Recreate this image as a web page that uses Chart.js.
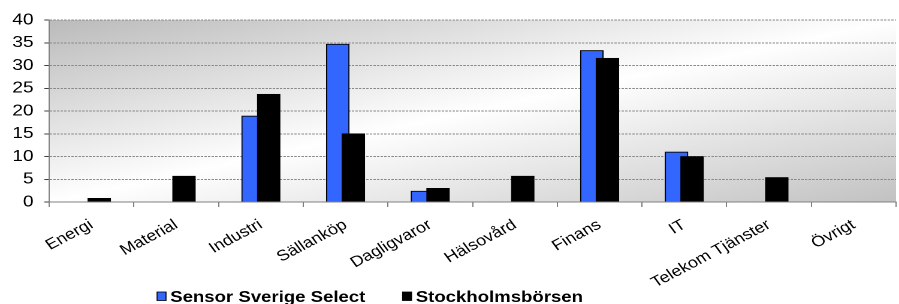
<!DOCTYPE html>
<html>
<head>
<meta charset="utf-8">
<script src="https://cdn.jsdelivr.net/npm/chart.js@4/dist/chart.umd.min.js"></script>
<style>
  html, body { margin: 0; padding: 0; background: #fff; overflow: hidden; }
  /* the original picture is stretched sideways, so draw narrow and stretch */
  #wrap { width: 750px; height: 304px; transform: scaleX(1.1987); transform-origin: 0 0; }
</style>
</head>
<body>
<div id="wrap"><canvas id="chart" width="750" height="304"></canvas></div>
<script>
const categories = ['Energi', 'Material', 'Industri', 'Sällanköp', 'Dagligvaror',
  'Hälsovård', 'Finans', 'IT', 'Telekom Tjänster', 'Övrigt'];
const sensorValues = [0, 0, 18.9, 34.7, 2.4, 0, 33.3, 11.0, 0, 0];
const stockholmValues = [0.8, 5.7, 23.7, 15.0, 3.0, 5.7, 31.6, 10.0, 5.4, 0];
const seriesNames = ['Sensor Sverige Select', 'Stockholmsbörsen'];
const yMin = 0, yMax = 40, yStep = 5;

const FONT = "'Liberation Sans', Arial, sans-serif";
const barShift = [-6.5, 6.5];

// gray diagonal gradient behind the plot (Excel style, in unit square)
const plotBackground = {
  id: 'plotBackground',
  beforeDraw(chart) {
    const { ctx, chartArea: a } = chart;
    ctx.save();
    ctx.translate(a.left, a.top);
    ctx.scale(a.right - a.left, a.bottom - a.top);
    const g = ctx.createLinearGradient(0, 0, 1, 1);
    g.addColorStop(0, '#bbbbbb');
    g.addColorStop(0.5, '#ffffff');
    g.addColorStop(1, '#c2c2c2');
    ctx.fillStyle = g;
    ctx.fillRect(0, 0, 1, 1);
    ctx.restore();
  }
};

// overlapping bars: push each series a bit off the category centre
const overlapBars = {
  id: 'overlapBars',
  afterDatasetsUpdate(chart) {
    chart.data.datasets.forEach((ds, i) => {
      chart.getDatasetMeta(i).data.forEach(el => { el.x += barShift[i]; });
    });
  }
};

// legend drawn by hand so it can sit off-centre like the original
const sideLegend = {
  id: 'sideLegend',
  afterDraw(chart) {
    const ctx = chart.ctx;
    ctx.save();
    ctx.font = 'bold 15.5px ' + FONT;
    ctx.textBaseline = 'alphabetic';
    let x = 131;
    chart.data.datasets.forEach(ds => {
      ctx.fillStyle = ds.backgroundColor;
      ctx.fillRect(x, 292, 7.5, 8.5);
      ctx.strokeStyle = '#000';
      ctx.lineWidth = 0.8;
      ctx.strokeRect(x, 292, 7.5, 8.5);
      ctx.fillStyle = '#000';
      ctx.fillText(ds.label, x + 11, 302);
      x += 11 + ctx.measureText(ds.label).width + 31;
    });
    ctx.restore();
  }
};

new Chart(document.getElementById('chart'), {
  type: 'bar',
  data: {
    labels: categories,
    datasets: [
      { label: seriesNames[0], data: sensorValues, backgroundColor: '#3366ff',
        borderColor: '#000', borderWidth: 1, borderSkipped: 'bottom', order: 1 },
      { label: seriesNames[1], data: stockholmValues, backgroundColor: '#000000',
        borderColor: '#000', borderWidth: 1, borderSkipped: 'bottom', order: 0 }
    ]
  },
  options: {
    responsive: false,
    devicePixelRatio: 2,
    animation: false,
    layout: { padding: { top: 20, right: 2.5, left: 0, bottom: 0 } },
    datasets: { bar: { grouped: false, barThickness: 19 } },
    plugins: {
      legend: { display: false },
      tooltip: { enabled: false }
    },
    scales: {
      x: {
        afterFit: s => { s.height = 102; },
        grid: { offset: true, drawOnChartArea: false, tickLength: 5, color: '#808080' },
        border: { color: '#808080' },
        ticks: {
          autoSkip: false, minRotation: 32, maxRotation: 32, padding: 9,
          color: '#000', font: { family: FONT, size: 15 }
        }
      },
      y: {
        min: yMin,
        max: yMax,
        afterFit: s => { s.width = 41; },
        grid: { color: '#8a8a8a', tickLength: 4, tickColor: '#404040', tickBorderDash: [] },
        border: { color: '#808080', dash: [2, 1] },
        ticks: {
          stepSize: yStep, padding: 9, color: '#000',
          font: { family: FONT, size: 16 }
        }
      }
    }
  },
  plugins: [plotBackground, overlapBars, sideLegend]
});
</script>
</body>
</html>
